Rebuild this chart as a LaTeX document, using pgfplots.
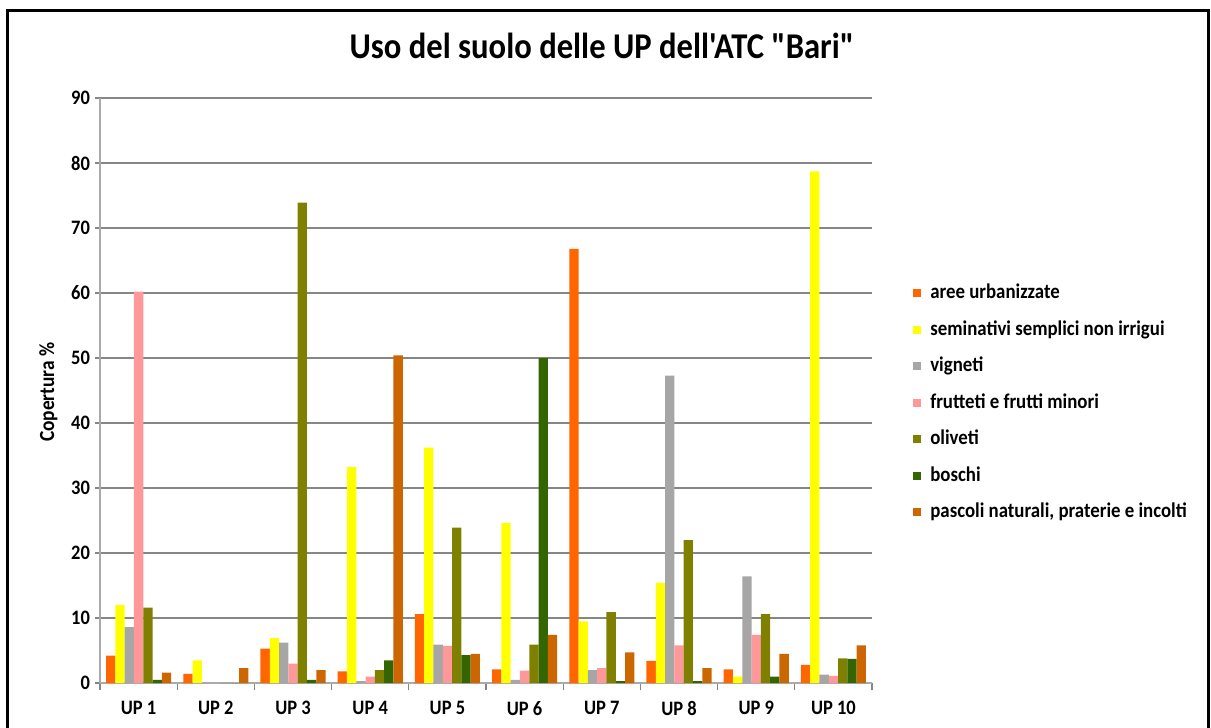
\documentclass[border=0pt]{standalone}
\usepackage{fontspec}
\setmainfont{Carlito}[Ligatures=TeXOff, FakeStretch=0.9]
\usepackage{pgfplots}
\usepackage{pgfplotstable}
\pgfplotsset{compat=1.18}
\definecolor{c1}{HTML}{FF6600}
\definecolor{c2}{HTML}{FFFF00}
\definecolor{c3}{HTML}{A6A6A6}
\definecolor{c4}{HTML}{FF9999}
\definecolor{c5}{HTML}{808000}
\definecolor{c6}{HTML}{336600}
\definecolor{c7}{HTML}{CC6600}
\definecolor{gridc}{HTML}{868686}
\pgfplotstableread{
x a b c d e f g
0 4.2 12.0 8.6 60.2 11.6 0.5 1.6
1 1.4 3.5 0 0 0 0 2.3
2 5.3 6.9 6.2 3.0 73.9 0.5 2.0
3 1.8 33.2 0.3 1.0 2.0 3.5 50.4
4 10.6 36.2 5.9 5.7 23.9 4.3 4.5
5 2.1 24.6 0.5 1.9 5.9 50.0 7.4
6 66.8 9.5 2.0 2.3 10.9 0.3 4.7
7 3.4 15.4 47.3 5.8 22.0 0.3 2.3
8 2.1 1.0 16.4 7.4 10.6 1.0 4.5
9 2.8 78.7 1.3 1.1 3.8 3.7 5.8
}\data
\begin{document}
\begin{tikzpicture}[x=1bp,y=1bp]
\useasboundingbox (-50,-22) rectangle (555.5,341.5);
\draw[line width=1.5bp, black] (-46,-40) rectangle (554,336);
\begin{axis}[
  at={(0,0)}, anchor=south west,
  width=386bp, height=292.5bp, scale only axis,
  ybar=0pt, bar width=4.65bp,
  xmin=-0.5, xmax=9.5, ymin=0, ymax=90,
  ytick={0,10,...,90},
  xtick={0,...,9},
  xticklabels={UP 1,UP 2,UP 3,UP 4,UP 5,UP 6,UP 7,UP 8,UP 9,UP 10},
  minor xtick={-0.5,0.5,...,9.5},
  major x tick style={draw=none},
  tick align=outside,
  major tick length=2.5bp, minor tick length=3.5bp,
  axis x line*=bottom, axis y line*=left,
  axis line style={gridc!70, line width=0.6bp},
  every tick/.style={gridc, line width=0.6bp},
  ymajorgrids, grid style={gridc, line width=0.6bp},
  /pgf/number format/assume math mode=true,
  tick label style={font=\bfseries\fontsize{10.3}{12}\selectfont},
  x tick label style={yshift=-3bp},
  y tick label style={xshift=1bp},
  title={Uso del suolo delle UP dell'ATC "Bari"},
  title style={at={(0.650,1)}, anchor=base, yshift=14bp, font=\bfseries\fontsize{18.2}{21}\selectfont},
  ylabel={Copertura \%},
  ylabel style={at={(-0.0667,0.497)}, anchor=center, font=\bfseries\fontsize{10.8}{12}\selectfont},
  legend cell align=left,
  legend style={at={(1.053,0.479)}, anchor=west, draw=none, fill=none, inner sep=0pt,
    font=\bfseries\fontsize{10.5}{12}\selectfont,
    nodes={inner sep=0pt, text height=8bp, text depth=2.5bp},
    row sep=7.75bp},
  legend image code/.code={\fill[#1] (0bp,-2bp) rectangle (4bp,2bp); \path (8.5bp,0bp);},
  every axis plot/.append style={draw=none},
]
\addplot[fill=c1] table[x=x,y=a]{\data};
\addplot[fill=c2] table[x=x,y=b]{\data};
\addplot[fill=c3] table[x=x,y=c]{\data};
\addplot[fill=c4] table[x=x,y=d]{\data};
\addplot[fill=c5] table[x=x,y=e]{\data};
\addplot[fill=c6] table[x=x,y=f]{\data};
\addplot[fill=c7] table[x=x,y=g]{\data};
\legend{aree urbanizzate,seminativi semplici non irrigui,vigneti,frutteti e frutti minori,oliveti,boschi,{pascoli naturali, praterie e incolti}}
\end{axis}
\end{tikzpicture}
\end{document}
